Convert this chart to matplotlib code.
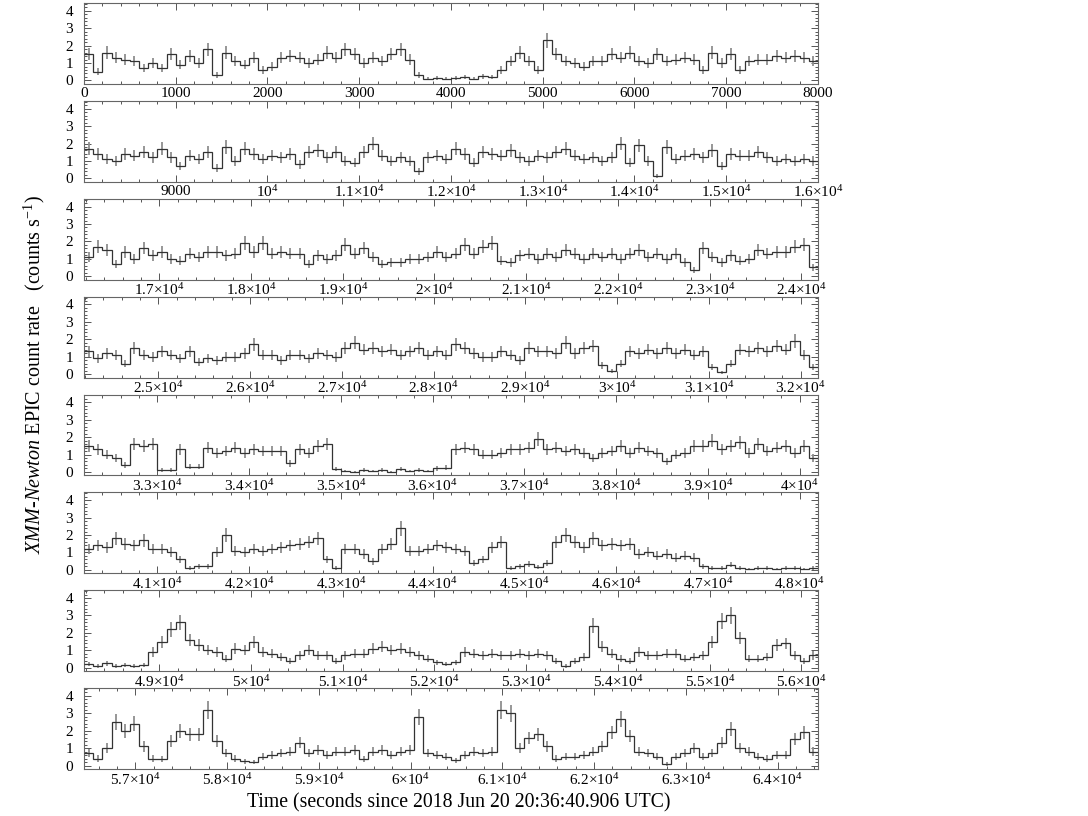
import numpy as np
import matplotlib
matplotlib.use("Agg")
import matplotlib.pyplot as plt
from matplotlib.ticker import MultipleLocator

plt.rcParams['font.family'] = ['Liberation Serif', 'DejaVu Serif']
plt.rcParams['mathtext.fontset'] = 'custom'
plt.rcParams['mathtext.rm'] = 'Liberation Serif'
plt.rcParams['mathtext.it'] = 'Liberation Serif:italic'
plt.rcParams['mathtext.bf'] = 'Liberation Serif:bold'

# light curve, 100 s bins, counts/s
bin_size = 100.0
panel_start = [0, 8000, 16180, 24190, 32200, 40200, 48180, 56440]

rate_p1 = [1.5, 0.5, 1.6, 1.3, 1.2, 1.1, 0.7, 1.0, 0.7, 1.5,
           0.9, 1.4, 1.0, 1.8, 0.3, 1.6, 1.1, 0.9, 1.3, 0.6,
           0.8, 1.3, 1.4, 1.3, 1.0, 1.2, 1.6, 1.3, 1.8, 1.5,
           1.0, 1.3, 1.1, 1.5, 1.8, 1.2, 0.3, 0.1, 0.15, 0.1,
           0.15, 0.2, 0.1, 0.25, 0.2, 0.6, 1.1, 1.6, 1.1, 0.6,
           2.3, 1.5, 1.1, 1.0, 0.8, 1.1, 1.1, 1.5, 1.3, 1.6,
           1.1, 1.0, 1.5, 1.1, 1.2, 1.3, 1.2, 0.6, 1.6, 1.0,
           1.5, 0.6, 1.1, 1.2, 1.2, 1.4, 1.3, 1.4, 1.3, 1.1]
rate_p2 = [1.7, 1.4, 1.1, 1.0, 1.4, 1.3, 1.5, 1.2, 1.7, 1.2,
           0.7, 1.3, 1.1, 1.5, 0.6, 1.8, 1.0, 1.7, 1.4, 1.1,
           1.3, 1.2, 1.4, 0.8, 1.5, 1.6, 1.2, 1.5, 1.0, 0.9,
           1.5, 2.0, 1.3, 1.0, 1.2, 1.0, 0.4, 1.2, 1.3, 1.1,
           1.7, 1.4, 0.9, 1.5, 1.4, 1.3, 1.6, 1.2, 1.0, 1.3,
           1.2, 1.5, 1.7, 1.3, 1.1, 1.2, 1.0, 1.2, 2.0, 0.9,
           1.9, 1.0, 0.15, 1.8, 1.1, 1.3, 1.4, 1.2, 1.6, 0.7,
           1.4, 1.3, 1.3, 1.5, 1.2, 1.0, 1.1, 1.0, 1.1, 1.0]
rate_p3 = [1.1, 1.7, 1.5, 0.7, 1.4, 1.0, 1.6, 1.2, 1.4, 1.0,
           0.9, 1.3, 1.1, 1.4, 1.4, 1.2, 1.3, 1.9, 1.4, 1.9,
           1.3, 1.4, 1.3, 1.3, 0.7, 1.2, 1.0, 1.2, 1.8, 1.3,
           1.6, 1.1, 0.7, 0.8, 0.8, 1.0, 1.0, 1.1, 1.4, 1.1,
           1.3, 1.8, 1.3, 1.7, 1.9, 0.9, 0.8, 1.2, 1.3, 1.0,
           1.3, 1.1, 1.5, 1.3, 1.0, 1.3, 1.1, 1.3, 1.0, 1.3,
           1.5, 1.1, 1.3, 1.0, 1.3, 0.8, 0.35, 1.6, 1.1, 0.8,
           1.2, 0.9, 1.0, 1.5, 1.3, 1.4, 1.4, 1.7, 1.8, 0.5]
rate_p4 = [1.3, 0.9, 1.2, 1.1, 0.6, 1.5, 1.1, 1.0, 1.3, 1.1,
           0.9, 1.3, 0.7, 0.9, 0.8, 1.0, 1.0, 1.2, 1.7, 1.1,
           1.1, 0.8, 1.1, 1.1, 0.9, 1.2, 1.1, 1.0, 1.5, 1.8,
           1.4, 1.5, 1.3, 1.4, 1.1, 1.3, 1.5, 1.1, 1.3, 1.1,
           1.7, 1.5, 1.2, 1.0, 1.0, 1.3, 1.1, 0.8, 1.5, 1.3,
           1.3, 1.2, 1.8, 1.2, 1.5, 1.6, 0.5, 0.15, 0.6, 1.3,
           1.2, 1.4, 1.2, 1.5, 1.2, 1.4, 1.1, 1.3, 0.4, 0.1,
           0.6, 1.4, 1.3, 1.5, 1.3, 1.6, 1.4, 1.9, 1.1, 0.4]
rate_p5 = [1.5, 1.3, 1.0, 0.8, 0.4, 1.6, 1.5, 1.6, 0.1, 0.1,
           1.3, 0.3, 0.3, 1.4, 1.1, 1.2, 1.4, 1.1, 1.3, 1.2,
           1.2, 1.2, 0.5, 1.3, 1.1, 1.5, 1.6, 0.15, 0.05, 0.0,
           0.1, 0.05, 0.1, 0.0, 0.15, 0.05, 0.1, 0.05, 0.2, 0.25,
           1.3, 1.4, 1.3, 1.0, 1.0, 1.1, 1.3, 1.3, 1.4, 1.9,
           1.3, 1.4, 1.2, 1.3, 1.1, 0.8, 1.1, 1.2, 1.5, 1.1,
           1.4, 1.2, 1.1, 0.6, 1.0, 1.1, 1.5, 1.5, 1.8, 1.3,
           1.5, 1.7, 1.1, 1.6, 1.2, 1.4, 1.5, 1.1, 1.5, 0.8]
rate_p6 = [1.2, 1.4, 1.3, 1.8, 1.5, 1.4, 1.7, 1.2, 1.2, 1.0,
           0.6, 0.1, 0.2, 0.2, 1.0, 2.0, 1.1, 1.0, 1.2, 1.1,
           1.2, 1.3, 1.4, 1.5, 1.6, 1.8, 0.6, 0.1, 1.2, 1.2,
           0.9, 0.5, 1.2, 1.5, 2.4, 1.1, 1.1, 1.2, 1.4, 1.3,
           1.2, 1.1, 0.4, 0.6, 1.3, 1.6, 0.1, 0.2, 0.35, 0.15,
           0.4, 1.6, 2.0, 1.6, 1.3, 1.8, 1.4, 1.5, 1.4, 1.5,
           0.9, 1.0, 0.8, 0.9, 0.7, 0.8, 0.7, 0.2, 0.1, 0.1,
           0.3, 0.1, 0.05, 0.1, 0.1, 0.05, 0.1, 0.1, 0.05, 0.1]
rate_p7 = [0.2, 0.1, 0.25, 0.1, 0.15, 0.1, 0.15, 0.9, 1.5, 2.2,
           2.6, 1.6, 1.3, 1.0, 0.9, 0.5, 1.1, 1.0, 1.5, 0.9,
           0.8, 0.6, 0.4, 0.7, 1.0, 0.7, 0.7, 0.4, 0.7, 0.8,
           0.8, 1.1, 1.2, 1.0, 1.1, 0.9, 0.7, 0.5, 0.3, 0.2,
           0.3, 0.9, 0.8, 0.7, 0.8, 0.7, 0.7, 0.8, 0.7, 0.8,
           0.7, 0.4, 0.1, 0.4, 0.6, 2.4, 1.2, 0.8, 0.5, 0.4,
           0.9, 0.7, 0.7, 0.8, 0.8, 0.5, 0.6, 0.7, 1.5, 2.7,
           3.0, 1.7, 0.5, 0.5, 0.6, 1.3, 1.4, 0.7, 0.4, 0.7]
rate_p8 = [0.7, 0.4, 1.0, 2.5, 2.0, 2.4, 1.1, 0.4, 0.35, 1.4,
           2.0, 1.8, 1.8, 3.2, 1.4, 0.7, 0.4, 0.25, 0.2, 0.5,
           0.6, 0.7, 0.8, 1.3, 0.7, 0.9, 0.6, 0.8, 0.8, 0.9,
           0.35, 0.8, 0.9, 0.6, 0.8, 0.9, 2.8, 0.7, 0.6, 0.5,
           0.3, 0.6, 0.8, 0.7, 0.8, 3.2, 3.0, 1.0, 1.6, 1.8,
           1.1, 0.4, 0.5, 0.5, 0.6, 0.8, 1.1, 1.9, 2.7, 1.7,
           0.8, 0.7, 0.5, 0.1, 0.5, 0.7, 1.0, 0.5, 0.7, 1.3,
           2.1, 1.0, 0.8, 0.5, 0.4, 0.6, 0.6, 1.5, 1.9, 0.8]

rates = [rate_p1, rate_p2, rate_p3, rate_p4, rate_p5, rate_p6, rate_p7, rate_p8]
panel_width = 8000


def tick_label(v):
    if v < 10000:
        return f'{int(v)}'
    m = v / 10000.0
    if abs(m - 1) < 1e-9:
        return r'10$^{4}$'
    return f'{m:g}\u00d710' + r'$^{4}$'


fig, axes = plt.subplots(8, 1, figsize=(10.88, 8.16), dpi=100)
fig.subplots_adjust(left=0.0772, right=0.7518, top=0.9963, bottom=0.0576, hspace=0.21)

for k, ax in enumerate(axes):
    r = np.array(rates[k])
    t0 = panel_start[k]
    edges = t0 + bin_size * np.arange(len(r) + 1)
    centers = 0.5 * (edges[:-1] + edges[1:])
    err = np.sqrt((r + 0.03) / 13.0)

    ax.errorbar(centers, r, yerr=err, fmt='none', ecolor='#8f8f8f', elinewidth=1.3, capsize=0, zorder=2)
    ax.stairs(r, edges, color='#333333', linewidth=0.9, baseline=None, zorder=3)

    ax.set_xlim(t0, t0 + panel_width)
    ax.set_ylim(-0.2, 4.45)

    first = int(np.ceil(t0 / 1000.0)) * 1000
    ticks = [v for v in range(first, t0 + panel_width + 1, 1000) if not (k > 0 and v == t0)]
    ax.set_xticks(ticks)
    ax.set_xticklabels([tick_label(v) for v in ticks])
    ax.xaxis.set_minor_locator(MultipleLocator(200))
    ax.set_yticks([0, 1, 2, 3, 4])
    ax.yaxis.set_minor_locator(MultipleLocator(0.2))

    ax.tick_params(which='both', direction='in', top=True, right=True, colors='#555555',
                   labelcolor='black', labelsize=11, width=0.7)
    ax.tick_params(axis='x', pad=2)
    ax.tick_params(axis='y', pad=8)
    ax.tick_params(which='major', length=5)
    ax.tick_params(which='minor', length=2.5)
    for s in ax.spines.values():
        s.set_color('#666666')
        s.set_linewidth(0.8)

fig.text(0.032, 0.541, r'$\mathit{XMM}$-$\mathit{Newton}$ EPIC count rate   (counts s$^{-1}$)',
         rotation=90, ha='center', va='center', fontsize=14.5)
fig.text(0.4215, 0.016, 'Time (seconds since 2018 Jun 20 20:36:40.906 UTC)',
         ha='center', va='center', fontsize=14.2)

fig.savefig('out.png', dpi=100)
